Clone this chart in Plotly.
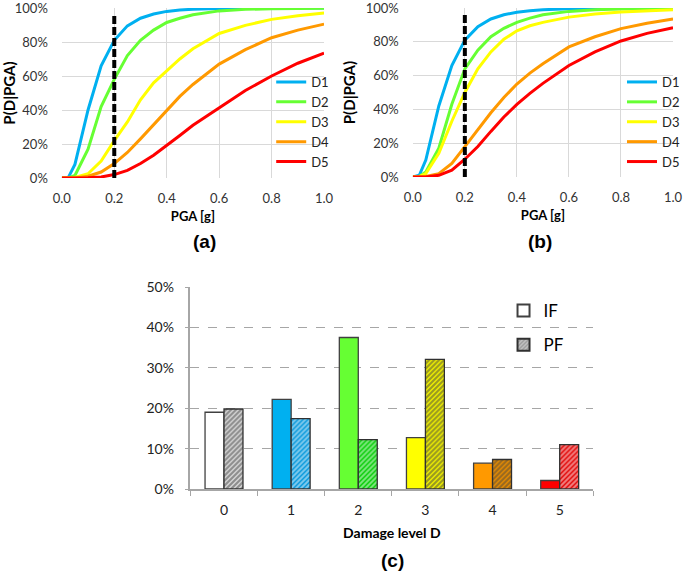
import plotly.graph_objects as go

# ---------------- data ----------------
pga = [0, 0.025, 0.05, 0.1, 0.15, 0.2, 0.25, 0.3, 0.35, 0.4, 0.45, 0.5, 0.6, 0.7, 0.8, 0.9, 1.0]

a_D1 = [0, 0.4, 8, 40, 66, 81, 89.5, 94, 96.5, 98, 98.8, 99.3, 99.7, 99.9, 100, 100, 100]
a_D2 = [0, 0, 1.5, 17, 42, 58, 72, 81, 87, 91.5, 94, 96, 98.3, 99.2, 99.6, 99.8, 99.9]
a_D3 = [0, 0, 0.3, 2.5, 10, 22, 33, 46, 56, 63, 70, 76, 85, 89.8, 93.3, 95.5, 97]
a_D4 = [0, 0, 0, 1, 3.5, 8.5, 15, 23, 31.5, 40, 48, 55, 67, 75.5, 82.5, 87, 90.5]
a_D5 = [0, 0, 0, 0.2, 0.6, 2, 4.5, 8.5, 13.4, 19, 25, 31, 41.5, 51.5, 60, 67.5, 73.5]

b_D1 = [0, 1, 10, 42, 66, 81, 89, 93.5, 96, 97.5, 98.4, 99, 99.5, 99.8, 99.9, 100, 100]
b_D2 = [0, 0.3, 3, 17, 43, 64, 75, 83, 88, 91.5, 94, 96, 98, 99, 99.4, 99.6, 99.7]
b_D3 = [0, 0.2, 2, 14, 33, 50, 64, 74, 81.5, 86.5, 89.5, 91.5, 94.6, 96.5, 97.7, 98.4, 98.9]
b_D4 = [0, 0, 0.3, 2, 8, 18, 28, 38, 47, 55, 61.5, 67, 77, 83, 87.8, 91, 93.5]
b_D5 = [0, 0, 0, 1, 4, 10.5, 18, 27, 35.5, 43, 49.5, 55.4, 66, 74, 80.5, 85, 88.3]

damage_names = ["D1", "D2", "D3", "D4", "D5"]
curve_colors = ["#00B0F0", "#66FF33", "#FFFF00", "#FF9900", "#FF0000"]

threshold_pga = [0.2, 0.2]
threshold_p = [0, 97]

levels = ["0", "1", "2", "3", "4", "5"]
IF = [19.0, 22.2, 37.5, 12.7, 6.4, 2.1]
PF = [19.8, 17.4, 12.2, 32.1, 7.3, 11.0]
if_colors = ["#FFFFFF", "#00B0F0", "#66FF33", "#FFFF00", "#FF9900", "#FF0000"]
pf_bg = ["#D6D6D6", "#0095DA", "#00CC00", "#EEEE00", "#E88C00", "#E00000"]
pf_fg = ["#555555", "#0A3050", "#004A00", "#5E5E00", "#5E3000", "#500000"]

# ---------------- figure ----------------
W, H = 685, 574
def px(x):
    return x / W
def py(y):
    return 1 - y / H

FONT = "Lato, Calibri, 'Open Sans', sans-serif"
fig = go.Figure()

sets = [("a", [a_D1, a_D2, a_D3, a_D4, a_D5], "x", "y", "legend"),
        ("b", [b_D1, b_D2, b_D3, b_D4, b_D5], "x2", "y2", "legend2")]
for tag, series, xa, ya, lg in sets:
    for name, vals, col in zip(damage_names, series, curve_colors):
        fig.add_trace(go.Scatter(x=pga, y=vals, mode="lines", name=name,
                                 line=dict(color=col, width=3),
                                 xaxis=xa, yaxis=ya, legend=lg))
    fig.add_trace(go.Scatter(x=threshold_pga, y=threshold_p, mode="lines",
                             line=dict(color="black", width=4, dash="8px,3px"),
                             showlegend=False, xaxis=xa, yaxis=ya, hoverinfo="skip"))

fig.add_trace(go.Bar(x=levels, y=IF, name="IF", xaxis="x3", yaxis="y3", legend="legend3",
                     marker=dict(color=if_colors, line=dict(color="#404040", width=1.3)),
                     legendgroup="if"))
fig.add_trace(go.Bar(x=levels, y=PF, name="PF", xaxis="x3", yaxis="y3", legend="legend3",
                     marker=dict(color=pf_bg, line=dict(color="#303030", width=1.3),
                                 pattern=dict(shape="/", fgcolor=pf_fg, size=3.5,
                                              solidity=0.6, fillmode="overlay")),
                     legendgroup="pf"))

grid = "#D9D9D9"
tickfont = dict(family=FONT, size=13, color="#333333")
titlefont = dict(family=FONT, size=13, color="black", weight="bold")
ytitlefont = dict(family=FONT, size=15, color="black", weight="bold")

common_x = dict(range=[0, 1], dtick=0.2, tickformat=".1f", showgrid=True, gridcolor=grid,
                gridwidth=1, zeroline=False, showline=False, ticks="", tickfont=tickfont,
                ticklabelstandoff=11, automargin=False, ticklabeloverflow="allow",
                title=dict(text="PGA [g]", font=titlefont, standoff=6), fixedrange=True)
common_y = dict(range=[0, 100], dtick=20, ticksuffix="%", showgrid=True, gridcolor=grid,
                gridwidth=1, zeroline=False, showline=False, ticks="", tickfont=tickfont,
                ticklabelstandoff=13, automargin=False, ticklabeloverflow="allow",
                title=dict(text="P(D|PGA)", font=ytitlefont, standoff=6), fixedrange=True)

legend_common = dict(font=dict(family=FONT, size=13, color="#222222"),
                     bgcolor="rgba(0,0,0,0)", borderwidth=0, tracegroupgap=0,
                     itemwidth=30, xanchor="left", yanchor="top")

fig.update_layout(
    width=W, height=H, margin=dict(l=0, r=0, t=0, b=0),
    paper_bgcolor="white", plot_bgcolor="white",
    barmode="group", bargap=0.435, bargroupgap=0,
    xaxis=dict(domain=[px(62), px(325)], anchor="y", **common_x),
    yaxis=dict(domain=[py(178), py(8)], anchor="x", **common_y),
    xaxis2=dict(domain=[px(414), px(675)], anchor="y2", **common_x),
    yaxis2=dict(domain=[py(177), py(8)], anchor="x2", **common_y),
    xaxis3=dict(domain=[px(191), px(595)], anchor="y3", type="category",
                range=[-0.5, 5.5], showgrid=False, zeroline=False, automargin=False,
                showline=True, linecolor="#A6A6A6", linewidth=1.5,
                ticks="outside", tickson="boundaries", ticklen=5, tickcolor="#A6A6A6",
                ticklabelstandoff=7,
                tickfont=dict(family=FONT, size=14, color="#222222"),
                title=dict(text="Damage level D", font=dict(family=FONT, size=14, color="black", weight="bold"), standoff=12),
                fixedrange=True),
    yaxis3=dict(domain=[py(489), py(287)], anchor="x3", range=[0, 50], dtick=10,
                ticksuffix="%", showgrid=True, gridcolor="#A6A6A6", griddash="dash",
                gridwidth=1, zeroline=False, showline=True, linecolor="#A6A6A6",
                linewidth=1.5, ticks="outside", ticklen=4, tickcolor="#A6A6A6",
                automargin=False, ticklabelstandoff=8, ticklabeloverflow="allow",
                tickfont=dict(family=FONT, size=14, color="#222222"), fixedrange=True),
    legend=dict(x=px(272), y=py(67), **legend_common),
    legend2=dict(x=px(624), y=py(67), **legend_common),
    legend3=dict(x=px(505), y=py(293), font=dict(family=FONT, size=17, color="black"),
                 bgcolor="rgba(0,0,0,0)", borderwidth=0, tracegroupgap=9,
                 xanchor="left", yanchor="top", itemsizing="constant"),
    showlegend=True,
)

labfont = dict(family="Liberation Sans, Arial, sans-serif", size=19, color="black", weight="bold")
for txt, x, y in [("(a)", 205, 241), ("(b)", 542, 241), ("(c)", 394, 560)]:
    fig.add_annotation(text=txt, x=px(x), y=py(y), xref="paper", yref="paper",
                       showarrow=False, font=labfont, xanchor="center", yanchor="middle")

fig.write_html("out.html", config={"displayModeBar": False},
               post_script="document.body.style.margin='0';document.body.style.overflow='hidden';")
